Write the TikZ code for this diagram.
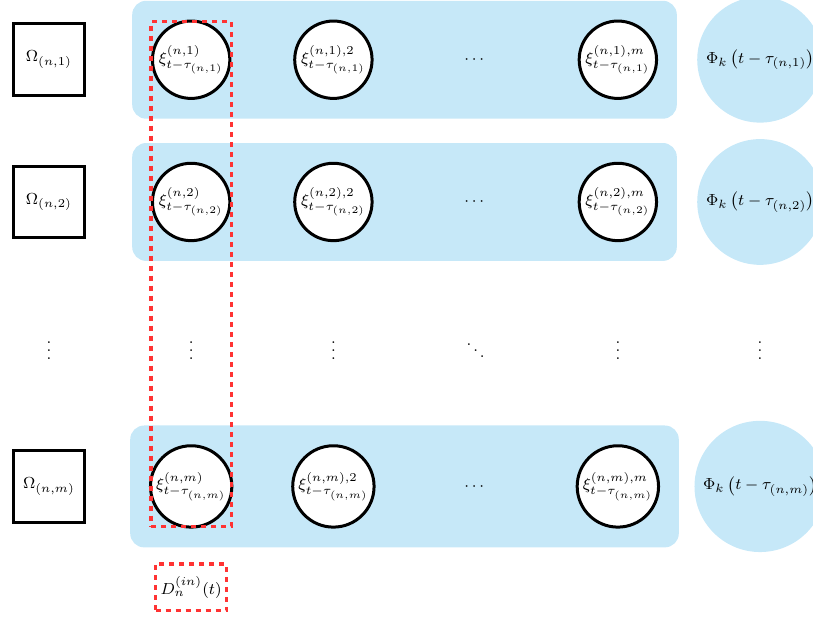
\documentclass[tikz,border=0pt]{standalone}
\usepackage{amsmath,amssymb}
\usepackage{xcolor}
\usepackage{tikz}
\usetikzlibrary{positioning, calc, fit, backgrounds}

\definecolor{rowblue}{RGB}{198,232,248}
\definecolor{dashred}{RGB}{255,51,51}

\begin{document}
\begin{tikzpicture}[
        every node/.style = {font = \footnotesize},
        omega/.style = {draw, rectangle, line width = 1.5pt, minimum size = 1.26 cm},
        xinode/.style = {draw, circle, fill = white, line width = 1.5pt, minimum
        size = 1.36 cm, inner sep = 1pt},
        phinode/.style = {circle, fill = rowblue, minimum size = 2.05 cm},
        rowbox/.style = {rectangle, rounded corners = 7pt, fill = rowblue, inner
        sep = 0.33 cm},
        redbox/.style = {draw = dashred, line width = 1.6pt, dash pattern = on
        2.5pt off 2.5pt}
    ]
        \useasboundingbox (-0.86, 1.05) rectangle (13.43, -9.81);

        \node [omega] (O1) at (0, 0) {$\Omega_{(n,1)}$};
        \node [omega] (O2) at (0, -2.5) {$\Omega_{(n,2)}$};
        \node [omega] (Om) at (0, -7.5) {$\Omega_{(n,m)}$};

        \node [xinode] (X11) at (2.5, 0) {$\xi^{(n,1)}_{t-\tau_{(n,1)}}$};
        \node [xinode] (X12) at (5, 0) {$\xi^{(n,1),2}_{t-\tau_{(n,1)}}$};
        \node (X13) at (7.5, 0) {$\cdots$};
        \node [xinode] (X1m) at (10, 0) {$\xi^{(n,1),m}_{t-\tau_{(n,1)}}$};

        \node [xinode] (X21) at (2.5, -2.5) {$\xi^{(n,2)}_{t-\tau_{(n,2)}}$};
        \node [xinode] (X22) at (5, -2.5) {$\xi^{(n,2),2}_{t-\tau_{(n,2)}}$};
        \node (X23) at (7.5, -2.5) {$\cdots$};
        \node [xinode] (X2m) at (10, -2.5) {$\xi^{(n,2),m}_{t-\tau_{(n,2)}}$};

        \node [xinode, minimum size = 1.43 cm] (Xm1) at (2.5, -7.5)
        {$\xi^{(n,m)}_{t-\tau_{(n,m)}}$};
        \node [xinode, minimum size = 1.43 cm] (Xm2) at (5, -7.5)
        {$\xi^{(n,m),2}_{t-\tau_{(n,m)}}$};
        \node (Xm3) at (7.5, -7.5) {$\cdots$};
        \node [xinode, minimum size = 1.43 cm] (Xmm) at (10, -7.5)
        {$\xi^{(n,m),m}_{t-\tau_{(n,m)}}$};

        \node [phinode] (P1) at (12.5, 0)
        {$\Phi_k\left(t-\tau_{(n,1)}\right)$};
        \node [phinode] (P2) at (12.5, -2.5)
        {$\Phi_k\left(t-\tau_{(n,2)}\right)$};
        \node [phinode, minimum size = 2.2 cm] (Pm) at (12.5, -7.5)
        {$\Phi_k\left(t-\tau_{(n,m)}\right)$};

        \node (V0) at (0, -5) {$\vdots$};
        \node (V1) at (2.5, -5) {$\vdots$};
        \node (V2) at (5, -5) {$\vdots$};
        \node (V3) at (7.5, -5) {$\ddots$};
        \node (V4) at (10, -5) {$\vdots$};
        \node (V5) at (12.5, -5) {$\vdots$};

        \begin{scope}[on background layer]
            \node [rowbox, fit = (X11) (X1m)] (R1) {};
            \node [rowbox, fit = (X21) (X2m)] (R2) {};
            \node [rowbox, fit = (Xm1) (Xmm)] (Rm) {};
        \end{scope}

        \node [redbox, rectangle, inner sep = -1pt, fit = (X11) (Xm1)] (C1) {};
        \node [redbox, rectangle, minimum height = 0.82 cm, inner xsep = 2.5pt,
        below = 0.6 cm of C1] (D) {$D^{(in)}_n(t)$};
    \end{tikzpicture}
\end{document}
